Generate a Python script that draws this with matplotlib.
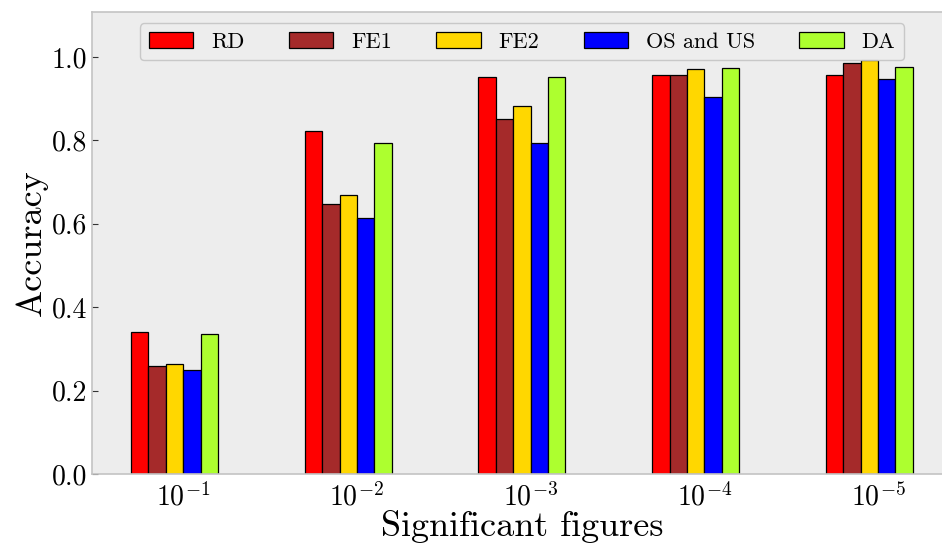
import matplotlib
matplotlib.use('Agg')
import matplotlib.pyplot as plt
import numpy as np

plt.rcParams['font.family'] = 'serif'
plt.rcParams['font.serif'] = ['cmr10']
plt.rcParams['mathtext.fontset'] = 'cm'
plt.rcParams['axes.unicode_minus'] = False

groups = [r'$10^{-1}$', r'$10^{-2}$', r'$10^{-3}$', r'$10^{-4}$', r'$10^{-5}$']
labels = ['RD', 'FE1', 'FE2', 'OS and US', 'DA']
colors = ['red', '#a52a2a', 'gold', 'blue', 'greenyellow']

rd = [0.341, 0.822, 0.951, 0.957, 0.958]
fe1 = [0.259, 0.648, 0.851, 0.957, 0.985]
fe2 = [0.265, 0.670, 0.882, 0.970, 0.992]
os_us = [0.249, 0.615, 0.793, 0.904, 0.947]
da = [0.336, 0.794, 0.951, 0.974, 0.976]
series = [rd, fe1, fe2, os_us, da]

fig = plt.figure(figsize=(9.42, 5.43), dpi=100)
ax = fig.add_axes([0.0977, 0.127, 0.9127, 0.851])
ax.set_facecolor('#ededed')

x = np.arange(len(groups))
w = 0.1
for i in range(len(series)):
    ax.bar(x + (i - 3) * w, series[i], w, align='edge', color=colors[i],
           edgecolor='black', linewidth=0.9, label=labels[i])

ax.set_xticks(x)
ax.set_xticklabels(groups, fontsize=20)
ax.set_yticks(np.arange(0, 1.01, 0.2))
ax.set_yticklabels(['%.1f' % v for v in np.arange(0, 1.01, 0.2)], fontsize=20)
ax.set_ylim(0, 1.108)
ax.tick_params(axis='x', length=0, pad=6)
ax.tick_params(axis='y', direction='in', length=4, color='#333333')
for s in ['left', 'top', 'bottom']:
    ax.spines[s].set_color('#c4c4c4')
    ax.spines[s].set_linewidth(1.2)
ax.spines['right'].set_visible(False)

ax.set_xlabel('Significant figures', fontsize=26, labelpad=-1)
ax.set_ylabel('Accuracy', fontsize=26, labelpad=3)

leg = ax.legend(loc='upper center', ncol=5, fontsize=16, facecolor='#ededed',
                edgecolor='#c4c4c4', columnspacing=2.0, framealpha=0.9)

fig.savefig('out.png', dpi=100)
